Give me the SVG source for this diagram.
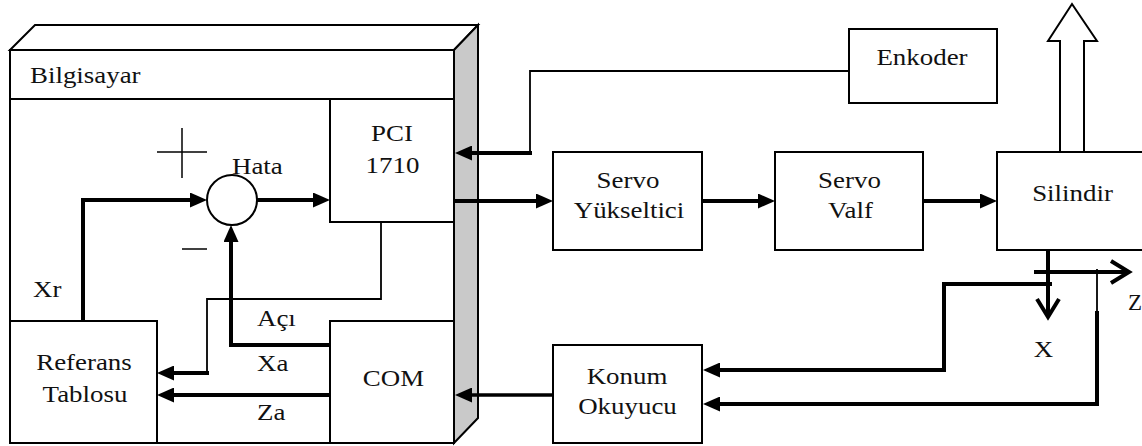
<svg xmlns="http://www.w3.org/2000/svg" width="1142" height="446" viewBox="0 0 1142 446">
<style>
  .box{fill:#fff;stroke:#000;stroke-width:2}
  .thin{fill:none;stroke:#000;stroke-width:1.8}
  .thick{fill:none;stroke:#000;stroke-width:4}
  .arr{marker-end:url(#ah)}
</style>
<defs>
  <marker id="ah" viewBox="0 0 17 15" refX="7" refY="7.5" markerWidth="17" markerHeight="15" markerUnits="userSpaceOnUse" orient="auto">
    <path d="M0,0 L17,7.5 L0,15 z" fill="#000"/>
  </marker>
</defs>
<rect width="1142" height="446" fill="#fff"/>

<g id="bilgisayar">
  <polygon points="10,50 35,25 478,25 454,50" class="box"/>
  <polygon points="454,50 478,25 478,418 454,443" fill="#c9c9c9" stroke="#000" stroke-width="2"/>
  <rect x="10" y="50" width="444" height="393" class="box"/>
  <line x1="10" y1="99" x2="454" y2="99" stroke="#000" stroke-width="2"/>
  <text font-family="Liberation Serif" font-size="23" fill="#111" transform="translate(30,83) scale(1.17,1)">Bilgisayar</text>
</g>

<g id="pci">
  <rect x="330" y="99" width="124" height="123" class="box"/>
  <text font-family="Liberation Serif" font-size="23" fill="#111" text-anchor="middle" transform="translate(392,141) scale(1.17,1)">PCI</text>
  <text font-family="Liberation Serif" font-size="23" fill="#111" text-anchor="middle" transform="translate(392.5,173) scale(1.17,1)">1710</text>
</g>

<g id="referans">
  <rect x="10" y="321" width="147" height="122" class="box"/>
  <text font-family="Liberation Serif" font-size="23" fill="#111" text-anchor="middle" transform="translate(84,370) scale(1.17,1)">Referans</text>
  <text font-family="Liberation Serif" font-size="23" fill="#111" text-anchor="middle" transform="translate(85,402) scale(1.17,1)">Tablosu</text>
</g>

<g id="com">
  <rect x="330" y="321" width="124" height="122" class="box"/>
  <text font-family="Liberation Serif" font-size="23" fill="#111" text-anchor="middle" transform="translate(393.5,386) scale(1.17,1)">COM</text>
</g>

<g id="toplayici">
  <circle cx="232" cy="200" r="25" class="box"/>
  <text font-family="Liberation Serif" font-size="23" fill="#111" transform="translate(232,174) scale(1.17,1)">Hata</text>
  <line x1="157" y1="152" x2="207" y2="152" stroke="#000" stroke-width="1.5"/>
  <line x1="182" y1="128" x2="182" y2="178" stroke="#000" stroke-width="1.5"/>
  <line x1="182" y1="249" x2="207" y2="249" stroke="#000" stroke-width="1.5"/>
</g>

<g id="enkoder">
  <rect x="849" y="29" width="148" height="74" class="box"/>
  <text font-family="Liberation Serif" font-size="23" fill="#111" text-anchor="middle" transform="translate(922,65) scale(1.17,1)">Enkoder</text>
</g>

<g id="servo-yukseltici">
  <rect x="553" y="152" width="149" height="98" class="box"/>
  <text font-family="Liberation Serif" font-size="23" fill="#111" text-anchor="middle" transform="translate(628,188) scale(1.17,1)">Servo</text>
  <text font-family="Liberation Serif" font-size="23" fill="#111" text-anchor="middle" transform="translate(629,218) scale(1.17,1)">Yükseltici</text>
</g>

<g id="servo-valf">
  <rect x="775" y="152" width="148" height="98" class="box"/>
  <text font-family="Liberation Serif" font-size="23" fill="#111" text-anchor="middle" transform="translate(849.5,188) scale(1.17,1)">Servo</text>
  <text font-family="Liberation Serif" font-size="23" fill="#111" text-anchor="middle" transform="translate(850.5,218) scale(1.17,1)">Valf</text>
</g>

<g id="silindir">
  <rect x="997" y="152" width="160" height="98" class="box"/>
  <text font-family="Liberation Serif" font-size="23" fill="#111" text-anchor="middle" transform="translate(1072.5,201) scale(1.17,1)">Silindir</text>
  <polygon points="1060,152 1060,41 1048,41 1072,4 1097,41 1084,41 1084,152" class="box"/>
</g>

<g id="konum">
  <rect x="553" y="345" width="149" height="98" class="box"/>
  <text font-family="Liberation Serif" font-size="23" fill="#111" text-anchor="middle" transform="translate(627,384) scale(1.17,1)">Konum</text>
  <text font-family="Liberation Serif" font-size="23" fill="#111" text-anchor="middle" transform="translate(627.5,414) scale(1.17,1)">Okuyucu</text>
</g>

<g id="eksenler">
  <line x1="1048" y1="250" x2="1048" y2="317" stroke="#000" stroke-width="4"/>
  <polyline points="1037,299 1048,317 1059,299" fill="none" stroke="#000" stroke-width="4"/>
  <line x1="1034" y1="272" x2="1129" y2="272" stroke="#000" stroke-width="4"/>
  <polyline points="1111,261 1129,272 1111,283" fill="none" stroke="#000" stroke-width="4"/>
  <text font-family="Liberation Serif" font-size="23" fill="#111" text-anchor="middle" transform="translate(1043.5,357) scale(1.17,1)">X</text>
  <text font-family="Liberation Serif" font-size="23" fill="#111" transform="translate(1128,310) scale(1,1)">Z</text>
</g>

<g id="connectors">
  <path class="thick arr" d="M83,321 V200 H197"/>
  <path class="thick arr" d="M257,200 H320"/>
  <path class="thick arr" d="M330,345 H231 V235"/>
  <path class="thin" d="M381,222 V299 H207 V373"/>
  <path class="thick arr" d="M209,373 H167"/>
  <path class="thick arr" d="M330,395 H167"/>
  <path class="thin" d="M849,71 H530 V153"/>
  <path class="thick arr" d="M532,153 H465"/>
  <path class="thick arr" d="M453,201 H543"/>
  <path class="thick arr" d="M702,201 H765"/>
  <path class="thick arr" d="M923,201 H987"/>
  <path class="thick arr" d="M553,395 H465" style="stroke-width:3.5"/>
  <path class="thick arr" d="M1052,284 H944 V370 H713"/>
  <path class="thin" d="M1097,269 V312"/>
  <path class="thick arr" d="M1097,311 V404 H713"/>
  <text font-family="Liberation Serif" font-size="23" fill="#111" transform="translate(33,297) scale(1.17,1)">Xr</text>
  <text font-family="Liberation Serif" font-size="23" fill="#111" transform="translate(257,326) scale(1.17,1)">Açı</text>
  <text font-family="Liberation Serif" font-size="23" fill="#111" transform="translate(257,371) scale(1.17,1)">Xa</text>
  <text font-family="Liberation Serif" font-size="23" fill="#111" transform="translate(257,420) scale(1.17,1)">Za</text>
</g>
</svg>
